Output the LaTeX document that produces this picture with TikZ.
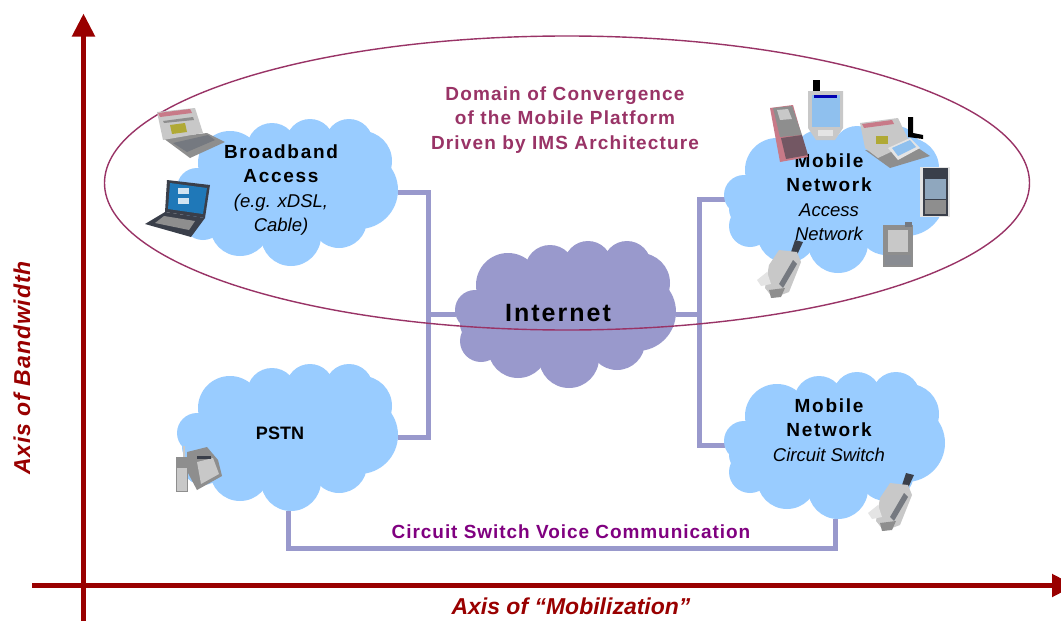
\documentclass[tikz,border=0pt]{standalone}
\usepackage{fontspec}
\setmainfont{Liberation Sans}
\newfontfamily\plainit{Liberation Sans}
\newfontfamily\spacedA[LetterSpace=9]{Liberation Sans}
\newfontfamily\spacedB[LetterSpace=6]{Liberation Sans}
\newfontfamily\spacedC[LetterSpace=5]{Liberation Sans}
\newfontfamily\spacedD[LetterSpace=8]{Liberation Sans}
\newfontfamily\spacedE[LetterSpace=4]{Liberation Sans}
\usetikzlibrary{arrows.meta,shapes.geometric}
\definecolor{cloudblue}{HTML}{99CCFF}
\definecolor{cloudnet}{HTML}{9999CC}
\definecolor{axisred}{HTML}{990000}
\definecolor{domainred}{HTML}{993366}
\definecolor{voicepurple}{HTML}{800080}
\definecolor{devdark}{HTML}{3A3F4A}
\definecolor{devmid}{HTML}{8E8E8E}
\definecolor{devlight}{HTML}{C8C8C8}
\definecolor{devpale}{HTML}{E4E4E4}
\definecolor{devscreen}{HTML}{8FC0EE}
\definecolor{devrose}{HTML}{C87A88}
\definecolor{devblue}{HTML}{1F78B8}
\tikzset{
  cloudbox/.style={minimum width=220pt,minimum height=147pt,inner sep=0pt,outer sep=0pt},
  link/.style={draw=cloudnet,line width=5pt},
  axisline/.style={draw=axisred,line width=5pt,-{Triangle[length=23pt,width=22pt]}},
  domainring/.style={draw=domainred,line width=1.4pt},
  ctext/.style={align=center,text=black,font=\spacedA\bfseries\fontsize{19}{24.5}\selectfont},
  titletext/.style={align=center,text=domainred,font=\spacedB\bfseries\fontsize{19}{24.5}\selectfont},
  axistext/.style={text=axisred,font=\bfseries\itshape\fontsize{23}{26}\selectfont},
}
\newcommand{\itl}[1]{{\plainit\mdseries\itshape\fontsize{18.5}{24.5}\selectfont #1}}
% cloud of overlapping lobes, coordinates relative to the cloud centre
\newcommand{\lobes}[3]{%
  \begin{scope}[shift={(#1,#2)}]
  \foreach \lx/\ly/\lr in {-91/-4/20,-88/10/18,-58/-29/32,-16/-44/25,22/-49/24,61/-49/24,74/-31/30,71/-2/39,51/28/28,3/44/30,-48/34/30,-85/27/21}
    \fill[#3] (\lx,\ly) circle (\lr);
  \fill[#3] (-78,-15) rectangle (70,30);
  \fill[#3] (-45,-45) rectangle (55,40);
  \end{scope}}
% devices, each drawn in px relative to its top-left corner
\newcommand{\paperlaptop}[2]{%
  \begin{scope}[shift={(#1,#2)}]
    \fill[devmid] (6,30) -- (50,25) -- (68,34) -- (33,50) -- cycle;
    \fill[devdark!70] (16,35) -- (51,27) -- (58,32) -- (30,44) -- cycle;
    \fill[devlight] (0,4) -- (38,0) -- (46,25) -- (6,32) -- cycle;
    \fill[devrose] (1,5) -- (33,1) -- (35,5) -- (3,9) -- cycle;
    \fill[olive!70] (13,17) -- (28,15) -- (30,24) -- (15,26) -- cycle;
    \fill[devmid] (6,13) -- (36,9) -- (37,12) -- (7,15) -- cycle;
  \end{scope}}
\newcommand{\darklaptop}[2]{%
  \begin{scope}[shift={(#1,#2)}]
    \fill[devdark] (22,0) -- (65,5) -- (60,38) -- (20,32) -- cycle;
    \fill[devblue] (25,3) -- (62,8) -- (58,34) -- (23,29) -- cycle;
    \fill[white!80!devblue] (33,8) rectangle (44,14);
    \fill[white!80!devblue] (33,18) rectangle (44,24);
    \fill[devdark] (20,32) -- (60,38) -- (46,57) -- (0,44) -- cycle;
    \fill[devmid] (19,36) -- (50,41) -- (44,50) -- (10,43) -- cycle;
  \end{scope}}
\newcommand{\ipaq}[2]{%
  \begin{scope}[shift={(#1,#2)}]
    \fill[black] (5,0) rectangle (12,14);
    \fill[devlight] (0,11) -- (35,11) -- (35,48) -- (27,60) -- (8,60) -- (0,48) -- cycle;
    \fill[devscreen] (4,15) rectangle (32,47);
    \fill[blue!70!black] (6,15) rectangle (29,18);
    \fill[devpale] (10,50) rectangle (25,56);
  \end{scope}}
\newcommand{\rosephone}[2]{%
  \begin{scope}[shift={(#1,#2)}]
    \fill[devrose] (0,3) -- (23,0) -- (38,52) -- (10,57) -- cycle;
    \fill[devmid] (3,3) -- (22,1) -- (32,30) -- (10,32) -- cycle;
    \fill[devlight] (7,5) -- (18,4) -- (22,14) -- (10,15) -- cycle;
    \fill[devdark!60!devrose] (11,33) -- (32,30) -- (38,50) -- (16,54) -- cycle;
  \end{scope}}
\newcommand{\paperpda}[2]{%
  \begin{scope}[shift={(#1,#2)}]
    \fill[devmid] (5,32) -- (25,35) -- (55,28) -- (70,38) -- (30,50) -- cycle;
    \fill[devlight] (0,5) -- (38,0) -- (50,25) -- (18,40) -- (5,30) -- cycle;
    \fill[devrose] (2,6) -- (32,2) -- (34,6) -- (4,10) -- cycle;
    \fill[olive!70] (16,18) rectangle (28,26);
    \fill[devpale] (28,30) -- (50,20) -- (60,30) -- (38,42) -- cycle;
    \fill[devscreen] (32,30) -- (50,22) -- (56,29) -- (38,38) -- cycle;
    \fill[black] (48,-1) -- (53,-1) -- (53,15) -- (63,17) -- (63,21) -- (48,19) -- cycle;
  \end{scope}}
\newcommand{\darkpda}[2]{%
  \begin{scope}[shift={(#1,#2)}]
    \fill[devpale] (0,0) rectangle (30,50);
    \fill[devdark] (3,1) rectangle (28,49);
    \fill[devscreen!50!devmid] (5,12) rectangle (26,32);
    \fill[devmid] (5,33) rectangle (26,47);
  \end{scope}}
\newcommand{\palm}[2]{%
  \begin{scope}[shift={(#1,#2)}]
    \fill[devmid] (0,3) rectangle (30,45);
    \fill[devdark!70] (22,0) rectangle (29,5);
    \fill[devlight] (5,8) rectangle (25,30);
    \fill[devdark!60] (2,33) rectangle (28,43);
  \end{scope}}
\newcommand{\flipphone}[2]{%
  \begin{scope}[shift={(#1,#2)}]
    \fill[devdark] (38,0) -- (46,2) -- (40,15) -- (34,12) -- cycle;
    \fill[devlight] (12,25) -- (22,10) -- (40,12) -- (44,22) -- (32,52) -- (16,58) -- (8,48) -- cycle;
    \fill[devpale] (0,40) -- (10,32) -- (14,44) -- (4,46) -- cycle;
    \fill[devdark!70] (36,20) -- (40,24) -- (26,48) -- (22,44) -- cycle;
    \fill[devmid] (12,50) -- (28,48) -- (24,57) -- (14,58) -- cycle;
  \end{scope}}
\newcommand{\faxphone}[2]{%
  \begin{scope}[shift={(#1,#2)}]
    \fill[devlight] (8,0) rectangle (10,11);
    \fill[devmid] (1,11) rectangle (13,46);
    \fill[devlight] (2,22) rectangle (12,45);
    \fill[devmid] (12,6) -- (32,1) -- (43,14) -- (47,30) -- (22,44) -- (13,27) -- cycle;
    \fill[devlight] (22,16) -- (38,12) -- (44,28) -- (26,38) -- cycle;
    \fill[devdark] (22,10) rectangle (36,13);
  \end{scope}}
\begin{document}
\begin{tikzpicture}[x=1pt,y=-1pt]
\useasboundingbox (0,0) rectangle (1061,621);
\fill[white] (0,0) rectangle (1061,621);
% layout nodes
\node[cloudbox] (bb) at (288,192) {};
\node[cloudbox] (pstn) at (288,437) {};
\node[cloudbox] (inet) at (566,314) {};
\node[cloudbox] (acc) at (835,199) {};
\node[cloudbox] (cs) at (835,445) {};
\coordinate (busl) at (428,314);
\coordinate (busr) at (699,314);
\coordinate (voice) at (288,548);
\coordinate (ytop) at (83.5,13.5);
\coordinate (ybot) at (83.5,621);
\coordinate (xl) at (32,585.5);
\coordinate (xr) at (1075,585.5);
% connectors
\draw[link] (bb.east) -| (busl) |- (pstn.east);
\draw[link] (busl) -- (inet.west);
\draw[link] (inet.east) -- (busr);
\draw[link] (acc.west) -| (busr) |- (cs.west);
\draw[link] (pstn.south) |- (voice -| cs.south) -- (cs.south);
% clouds
\lobes{288}{192}{cloudblue}
\lobes{288}{437}{cloudblue}
\lobes{566}{314}{cloudnet}
\lobes{835}{199}{cloudblue}
\lobes{835}{445}{cloudblue}
% domain ellipse
\node[domainring,ellipse,minimum width=925pt,minimum height=294pt,inner sep=0pt] (dom) at (567,183) {};
% axes
\draw[axisline] (ybot) -- (ytop);
\draw[axisline] (xl) -- (xr);
% texts
\node[titletext] (domt) at (565,120) {Domain of Convergence\\of the Mobile Platform\\Driven by IMS Architecture};
\node[ctext] (bbt) at (281,190) {Broadband\\Access\\\itl{(e.g. xDSL,}\\\itl{Cable)}};
\node[ctext] (at) at (829,197) {Mobile\\Network\\\itl{Access}\\\itl{Network}};
\node[ctext] (ct) at (829,430) {Mobile\\Network\\\itl{Circuit Switch}};
\node[text=black,font=\bfseries\fontsize{18}{20}\selectfont] (pt) at (280,433) {PSTN};
\node[text=black,font=\spacedD\bfseries\fontsize{25}{28}\selectfont] (it) at (558,313) {Internet};
\node[text=voicepurple,font=\spacedC\bfseries\fontsize{19}{20}\selectfont] (vt) at (571,532) {Circuit Switch Voice Communication};
\node[axistext] (xt) at (571,606) {Axis of “Mobilization”};
\node[axistext,font=\spacedE\bfseries\itshape\fontsize{23}{26}\selectfont,rotate=90] (yt) at (22,368) {Axis of Bandwidth};
% devices
\paperlaptop{157}{108}
\darklaptop{145}{180}
\ipaq{808}{80}
\rosephone{770}{105}
\paperpda{860}{118}
\darkpda{920}{167}
\palm{883}{222}
\flipphone{757}{240}
\flipphone{868}{473}
\faxphone{175}{446}
\end{tikzpicture}
\end{document}
